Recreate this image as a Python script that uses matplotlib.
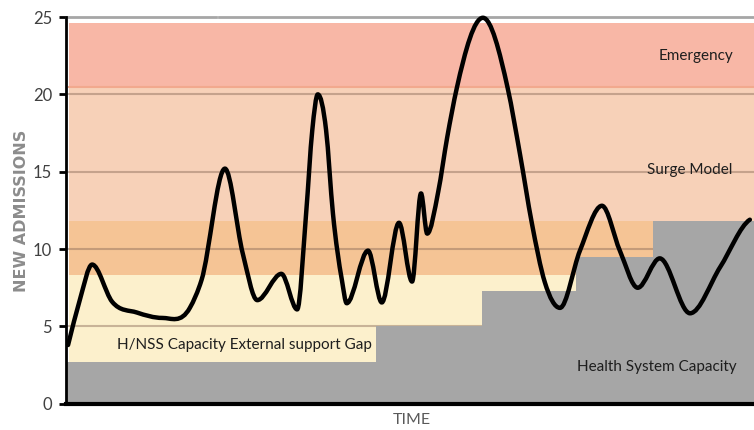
import matplotlib
matplotlib.use("Agg")
import matplotlib.pyplot as plt
from matplotlib.path import Path
from matplotlib.patches import PathPatch
import numpy as np

# ---- data ----
time_pts = [0.3, 2.0, 3.8, 6.7, 10.3, 14.0, 18.0, 19.7, 23.1, 25.7,
            27.8, 31.3, 33.6, 34.9, 35.8, 36.6, 37.8, 38.8, 40.1, 40.8, 43.9,
            45.9, 48.4, 50.3, 51.6, 52.5, 54.1, 55.4, 56.8, 60.6,
            64.2, 66.0, 67.7, 69.6, 71.8, 74.7, 77.9, 80.5, 83.1, 86.3, 90.7,
            95.1, 99.4]
admissions = [3.8, 6.7, 9.0, 6.6, 5.9, 5.55, 6.2, 8.0, 15.2, 9.7,
              6.7, 8.4, 6.1, 12.3, 17.7, 20.0, 17.7, 12.3, 8.0, 6.5, 9.9,
              6.55, 11.7, 7.9, 13.6, 11.0, 13.7, 17.2, 20.4, 24.95,
              20.4, 16.1, 11.7, 7.85, 6.2, 9.9, 12.8, 9.9, 7.5, 9.4, 5.85,
              8.85, 11.9]

# capacity step (Health System Capacity)
cap_edges = [0, 45.1, 60.5, 74.1, 85.3, 100]
cap_levels = [2.7, 5.0, 7.3, 9.5, 11.8]

# zones
zone_low = [0.0, 8.3, 11.8, 20.5]
zone_high = [8.3, 11.8, 20.5, 24.6]
zone_xend = [74.1, 85.3, 100, 100]
zone_colors = ["#FCF0CC", "#F5C495", "#F7D1B8", "#F8B7A6"]

yticks = [0, 5, 10, 15, 20, 25]

plt.rcParams['font.family'] = ['Lato', 'DejaVu Sans']

fig = plt.figure(figsize=(7.54, 4.30), dpi=100)
ax = fig.add_axes([66/754, (430-403.8)/430, 1-66/754, (403.8-17)/430])
ax.set_xlim(0, 100)
ax.set_ylim(0, 25)

x0 = 0.5
for lo, hi, xe, c in zip(zone_low, zone_high, zone_xend, zone_colors):
    ax.fill_between([x0, xe], lo, hi, color=c, lw=0, zorder=1)
ax.plot([x0, 100], [20.5, 20.5], color="#F2A98E", lw=1.5, zorder=1.5)

# gridlines
for yv in [5, 10, 15, 20]:
    ax.axhline(yv, color="#8a6a58", alpha=0.45, lw=1.5, zorder=2)
ax.plot([0, 21.8], [25, 25], color="#A6A6A6", lw=2, zorder=2, clip_on=False)
ax.plot([22.3, 100], [25, 25], color="#A6A6A6", lw=2, zorder=2, clip_on=False)

# capacity steps
for i, lvl in enumerate(cap_levels):
    ax.fill_between([cap_edges[i], cap_edges[i+1]], 0, lvl, color="#A6A6A6", lw=0, zorder=3)

# smoothed line drawn as cubic beziers (Bessel tangents, flat at turning points)
X = np.array(time_pts, float)
Y = np.array(admissions, float)
h = np.diff(X)
d = np.diff(Y) / h
m = np.zeros_like(Y)
for i in range(1, len(Y) - 1):
    if d[i-1] * d[i] > 0:
        m[i] = (h[i] * d[i-1] + h[i-1] * d[i]) / (h[i-1] + h[i])
m[0] = d[0]
m[-1] = d[-1] * 0.4
verts = [(X[0], Y[0])]
codes = [Path.MOVETO]
for i in range(len(X) - 1):
    dx = h[i] / 3.0
    verts += [(X[i] + dx, Y[i] + m[i] * dx), (X[i+1] - dx, Y[i+1] - m[i+1] * dx), (X[i+1], Y[i+1])]
    codes += [Path.CURVE4] * 3
ax.add_patch(PathPatch(Path(verts, codes), fill=False, edgecolor="black", lw=3.2, zorder=5,
                       clip_on=False, capstyle='round', joinstyle='round'))

# zone labels
lab = dict(ha="center", va="center", fontsize=11, color="#1E1E1E", zorder=6)
ax.text(91.6, 22.5, "Emergency", **lab)
ax.text(90.6, 15.1, "Surge Model", **lab)
ax.text(26.0, 3.8, "H/NSS Capacity External support Gap", **lab)
ax.text(85.9, 2.35, "Health System Capacity", **lab)

# axes styling
for s in ["top", "right"]:
    ax.spines[s].set_visible(False)
ax.spines["left"].set_linewidth(2)
ax.spines["bottom"].set_linewidth(3)
ax.spines["left"].set_zorder(7)
ax.spines["bottom"].set_zorder(7)
ax.set_yticks(yticks)
ax.set_yticklabels([str(v) for v in yticks])
ax.tick_params(axis="y", length=5, width=2, color="black", labelsize=12, labelcolor="#404040", pad=5)
ax.set_xticks([])
ax.set_ylabel("NEW ADMISSIONS", fontsize=11.5, fontweight="bold", color="#8C8C8C",
              family="DejaVu Sans")
ax.yaxis.set_label_coords(-0.054, 0.5)
ax.set_xlabel("TIME", fontsize=11.5, color="#595959")
ax.xaxis.set_label_coords(0.503, -0.025)

fig.savefig("out.png", dpi=100)
